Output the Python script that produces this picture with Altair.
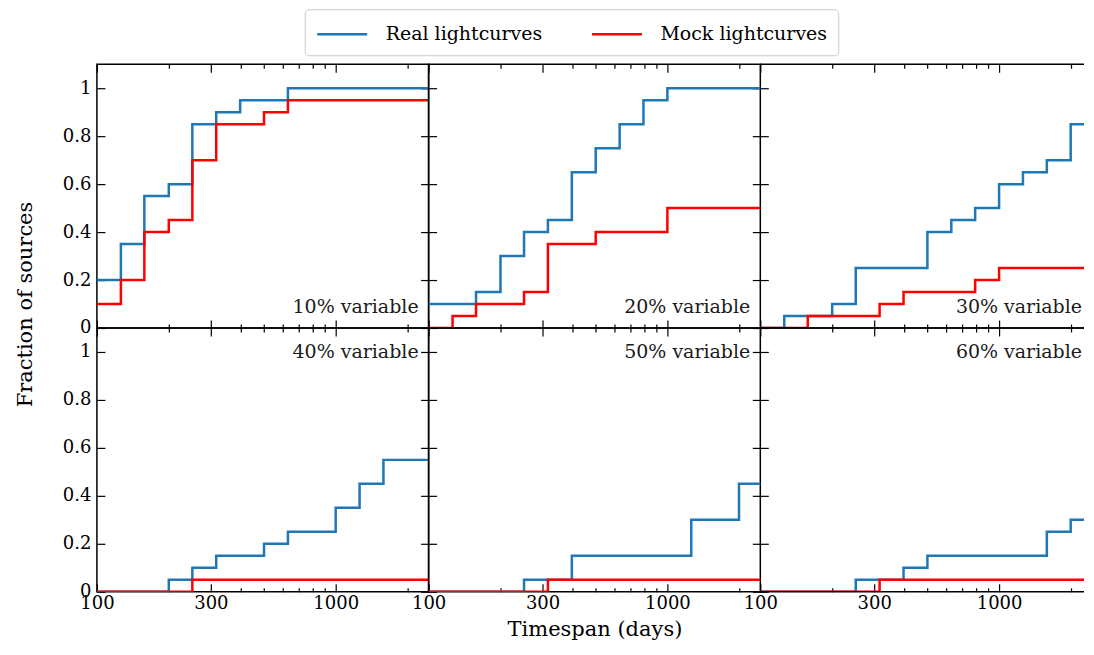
import math
import altair as alt
import pandas as pd

# ---- data ----
# step edges (days) of the cumulative step curves (log-spaced bins)
timespan_edges = [100, 126, 158, 200, 251, 316, 398, 501, 631, 794, 1000, 1259, 1585, 1995, 2512]

panel_labels = ["10% variable", "20% variable", "30% variable",
                "40% variable", "50% variable", "60% variable"]

real_10 = [0.20, 0.35, 0.55, 0.60, 0.85, 0.90, 0.95, 0.95, 1.00, 1.00, 1.00, 1.00, 1.00, 1.00]
mock_10 = [0.10, 0.20, 0.40, 0.45, 0.70, 0.85, 0.85, 0.90, 0.95, 0.95, 0.95, 0.95, 0.95, 0.95]
real_20 = [0.10, 0.10, 0.15, 0.30, 0.40, 0.45, 0.65, 0.75, 0.85, 0.95, 1.00, 1.00, 1.00, 1.00]
mock_20 = [0.00, 0.05, 0.10, 0.10, 0.15, 0.35, 0.35, 0.40, 0.40, 0.40, 0.50, 0.50, 0.50, 0.50]
real_30 = [0.00, 0.05, 0.05, 0.10, 0.25, 0.25, 0.25, 0.40, 0.45, 0.50, 0.60, 0.65, 0.70, 0.85]
mock_30 = [0.00, 0.00, 0.05, 0.05, 0.05, 0.10, 0.15, 0.15, 0.15, 0.20, 0.25, 0.25, 0.25, 0.25]
real_40 = [0.00, 0.00, 0.00, 0.05, 0.10, 0.15, 0.15, 0.20, 0.25, 0.25, 0.35, 0.45, 0.55, 0.55]
mock_40 = [0.00, 0.00, 0.00, 0.00, 0.05, 0.05, 0.05, 0.05, 0.05, 0.05, 0.05, 0.05, 0.05, 0.05]
real_50 = [0.00, 0.00, 0.00, 0.00, 0.05, 0.05, 0.15, 0.15, 0.15, 0.15, 0.15, 0.30, 0.30, 0.45]
mock_50 = [0.00, 0.00, 0.00, 0.00, 0.00, 0.05, 0.05, 0.05, 0.05, 0.05, 0.05, 0.05, 0.05, 0.05]
real_60 = [0.00, 0.00, 0.00, 0.00, 0.05, 0.05, 0.10, 0.15, 0.15, 0.15, 0.15, 0.15, 0.25, 0.30]
mock_60 = [0.00, 0.00, 0.00, 0.00, 0.00, 0.05, 0.05, 0.05, 0.05, 0.05, 0.05, 0.05, 0.05, 0.05]

real_series = [real_10, real_20, real_30, real_40, real_50, real_60]
mock_series = [mock_10, mock_20, mock_30, mock_40, mock_50, mock_60]

series_names = ["Real lightcurves", "Mock lightcurves"]
series_colors = ["#1f77b4", "#ff0000"]

x_major = [100, 300, 1000]
x_minor = [200, 400, 500, 600, 700, 800, 900, 2000]
y_ticks = [0, 0.2, 0.4, 0.6, 0.8, 1]

# ---- layout / style ----
W, H = 332, 264          # full panels
W_LAST = 324             # right column (reference is cut off at the page edge)
X_MIN, X_MAX = 100, 2450
FONT = "DejaVu Serif"
MAJ, MIN = 8, 4
FRAME_W = 1.5

# same pixels-per-decade for the narrower right column
X_MAX_LAST = 10 ** (math.log10(X_MIN) + (math.log10(X_MAX) - math.log10(X_MIN)) * W_LAST / W)

ys = alt.Scale(domain=[0, 1.1], nice=False, zero=False)

legend = alt.Legend(
    orient="none", legendX=208, legendY=-55, direction="horizontal", title=None,
    symbolType="M-1,0H3", symbolSize=625, symbolStrokeWidth=2.5,
    labelOffset=42, columnPadding=44, labelFont=FONT, labelFontSize=19, labelLimit=400,
    labelColor="black", padding=11, strokeColor="#cccccc", fillColor="white",
    cornerRadius=4,
)


def tick_axis(orient, values, size, labels=False, pad=4, **kw):
    return alt.Axis(
        orient=orient, values=values, tickSize=size, offset=-size, labels=labels,
        domain=False, grid=False, ticks=True, tickColor="black", tickWidth=1.2,
        labelFont=FONT, labelFontSize=18, labelColor="black", labelFlush=False,
        labelOverlap=False, labelPadding=pad, format="~g",
        titleFont=FONT, titleFontSize=21, titleFontWeight="normal", titleColor="black",
        **kw,
    )


def build_table(i):
    rows = []
    for name, vals in ((series_names[0], real_series[i]), (series_names[1], mock_series[i])):
        for k, e in enumerate(timespan_edges):
            v = vals[k] if k < len(vals) else vals[-1]
            rows.append({"timespan": e, "fraction": v, "series": name})
    return pd.DataFrame(rows)


def panel(i):
    row, col = divmod(i, 3)
    df = build_table(i)
    last = col == 2
    pw = W_LAST if last else W
    xs = alt.Scale(type="log", domain=[X_MIN, X_MAX_LAST if last else X_MAX], nice=False)

    if row == 1 and col == 1:
        bmaj = tick_axis("bottom", x_major, MAJ, labels=True, pad=3,
                         title="Timespan (days)", titlePadding=6)
    else:
        bmaj = tick_axis("bottom", x_major, MAJ, labels=(row == 1), pad=3, title=None)

    if row == 0 and col == 0:
        left = tick_axis("left", y_ticks, MAJ, labels=True, pad=6,
                         title="Fraction of sources", titleX=-73, titleY=240,
                         titleAngle=-90, titleAlign="center", titleBaseline="alphabetic")
    else:
        left = tick_axis("left", y_ticks, MAJ, labels=(col == 0), pad=6, title=None)

    lines = alt.Chart(df).mark_line(interpolate="step-after", strokeWidth=2.5, clip=True).encode(
        x=alt.X("timespan:Q", scale=xs, axis=bmaj),
        y=alt.Y("fraction:Q", scale=ys, axis=left),
        color=alt.Color("series:N", scale=alt.Scale(domain=series_names, range=series_colors),
                        legend=legend),
    )
    dummy = alt.Chart(df).mark_line(strokeOpacity=0, clip=True)
    right_axis = None if last else tick_axis("right", y_ticks, MAJ, title=None)
    lb = dummy.encode(
        x=alt.X("timespan:Q", scale=xs, axis=tick_axis("bottom", x_minor, MIN, title=None)),
        y=alt.Y("fraction:Q", scale=ys, axis=right_axis),
    )
    lc = dummy.encode(
        x=alt.X("timespan:Q", scale=xs, axis=tick_axis("top", x_major, MAJ, title=None)),
        y=alt.Y("fraction:Q", scale=ys, axis=None),
    )
    ld = dummy.encode(
        x=alt.X("timespan:Q", scale=xs, axis=tick_axis("top", x_minor, MIN, title=None)),
        y=alt.Y("fraction:Q", scale=ys, axis=None),
    )
    ty = H - 15 if row == 0 else 30
    # right column text keeps the reference's distance from the (cut-off) page edge
    tx = pw - 2 if last else pw - 10
    txt = alt.Chart(pd.DataFrame({"label": [panel_labels[i]]})).mark_text(
        align="right", baseline="alphabetic", font=FONT, fontSize=19, color="#1a1a1a"
    ).encode(x=alt.value(tx), y=alt.value(ty), text="label:N")

    layers = [lines, lb, lc, ld, txt]
    props = dict(width=pw, height=H)
    if last:
        # the reference's right column runs off the page: frame only top and bottom
        frame = alt.Chart(pd.DataFrame({"edge": [0, H]})).mark_rule(
            color="black", strokeWidth=FRAME_W
        ).encode(x=alt.value(0), x2=alt.value(pw), y=alt.Y("edge:Q", scale=None, axis=None))
        layers.append(frame)
        props["view"] = alt.ViewBackground(stroke="transparent")

    return alt.layer(*layers).resolve_axis(
        x="independent", y="independent"
    ).resolve_scale(y="independent").properties(**props)


chart = alt.concat(*[panel(i) for i in range(6)], columns=3, spacing=0, bounds="flush").configure_view(
    stroke="black", strokeWidth=FRAME_W
).properties(
    padding={"left": 6, "top": 0, "right": 0, "bottom": 0}
)

chart.save("out.html", embed_options={"renderer": "svg", "actions": False})
